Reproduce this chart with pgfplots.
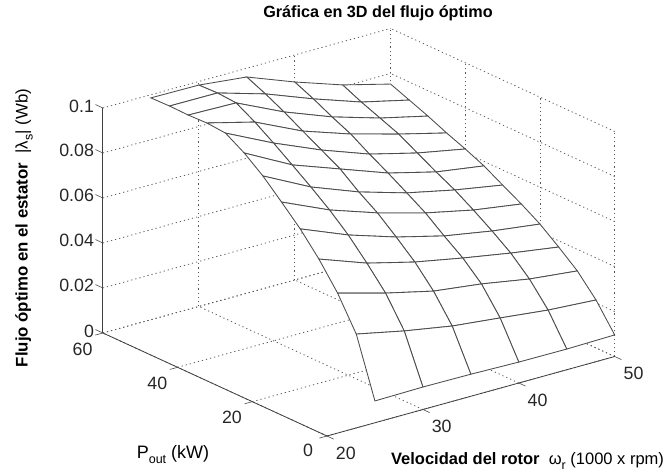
\documentclass[border=0pt]{standalone}
\usepackage{fontspec}
\setmainfont{Liberation Sans}
\usepackage{pgfplots}
\pgfplotsset{compat=1.18}
\definecolor{meshc}{gray}{0.3}
\definecolor{gridc}{gray}{0.35}
\newcommand{\sub}[1]{\raisebox{-5pt}{\fontsize{12.5}{12.5}\selectfont #1}}
\begin{document}
\begin{tikzpicture}
\begin{axis}[
  x={(9.59pt,2.65pt)},
  y={(-3.735pt,1.717pt)},
  z={(0pt,2250pt)},
  clip=false,
  xmin=20,xmax=50,ymin=0,ymax=60,zmin=0,zmax=0.1,
  xtick={20,30,40,50},ytick={0,20,40,60},ztick={0,0.02,0.04,0.06,0.08,0.1},
  scaled z ticks=false,
  /pgf/number format/assume math mode=true,
  z tick label style={/pgf/number format/fixed,yshift=-2pt},
  x tick label style={xshift=6pt,yshift=-3pt},
  y tick label style={xshift=-5.5pt,yshift=-2.5pt},
  grid=major,
  grid style={dash pattern=on 1.2pt off 3pt,gridc,line width=0.8pt},
  axis line style={draw=none},
  tick style={draw=none},
  tick align=outside,
  major tick length=6pt,
  tick label style={font=\fontsize{17.8}{20}\selectfont,text=black!85},
  title={\bfseries Gráfica en 3D del flujo óptimo},
  title style={at={(axis cs:25.32,0,0.1791)},anchor=center,yshift=0pt,font=\fontsize{16.2}{18}\selectfont},
  xlabel={\bfseries Velocidad del rotor\ \ \normalfont ω\sub{r} (1000 x rpm)},
  xlabel style={at={(axis cs:40.91,0,-0.03573)},anchor=center,rotate=0,sloped=false,font=\fontsize{16.5}{18}\selectfont},
  ylabel={P\sub{out} (kW)},
  ylabel style={at={(axis cs:20,41.23,-0.03991)},anchor=center,rotate=0,sloped=false,font=\fontsize{18}{20}\selectfont},
  zlabel={\bfseries Flujo óptimo en el estator\ \ \normalfont |λ\sub{s}| (Wb)},
  zlabel style={at={(axis cs:20,81.1,0.03053)},anchor=center,rotate=0,sloped=false,font=\fontsize{16.8}{18}\selectfont},
]
\addplot3[surf,shader=faceted,z buffer=sort,mesh/rows=13,mesh/cols=6,
  colormap={wh}{color=(white) color=(white)},faceted color=meshc,line width=0.85pt]
table[row sep=\\]{
x y z\\
25 60 .0986\\ 30 60 .0984\\ 35 60 .0961\\ 40 60 .0880\\ 45 60 .0808\\ 50 60 .0753\\
25 55 .0988\\ 30 55 .0987\\ 35 55 .0924\\ 40 55 .0843\\ 45 55 .0770\\ 50 55 .0720\\
25 50 .0986\\ 30 50 .0981\\ 35 50 .0882\\ 40 50 .0801\\ 45 50 .0737\\ 50 50 .0687\\
25 45 .0989\\ 30 45 .0934\\ 35 45 .0835\\ 40 45 .0763\\ 45 45 .0704\\ 50 45 .0650\\
25 40 .0982\\ 30 40 .0879\\ 35 40 .0789\\ 40 40 .0712\\ 45 40 .0658\\ 50 40 .0617\\
25 35 .0932\\ 30 35 .0820\\ 35 35 .0743\\ 40 35 .0666\\ 45 35 .0612\\ 50 35 .0580\\
25 30 .0868\\ 30 30 .0760\\ 35 30 .0679\\ 40 30 .0616\\ 45 30 .0570\\ 50 30 .0533\\
25 25 .0790\\ 30 25 .0696\\ 35 25 .0624\\ 40 25 .0565\\ 45 25 .0519\\ 50 25 .0487\\
25 20 .0709\\ 30 20 .0623\\ 35 20 .0555\\ 40 20 .0501\\ 45 20 .0464\\ 50 20 .0436\\
25 15 .0613\\ 30 15 .0536\\ 35 15 .0482\\ 40 15 .0441\\ 45 15 .0404\\ 50 15 .0372\\
25 10 .0500\\ 30 10 .0441\\ 35 10 .0391\\ 40 10 .0364\\ 45 10 .0327\\ 50 10 .0304\\
25 5 .0356\\ 30 5 .0311\\ 35 5 .0274\\ 40 5 .0251\\ 45 5 .0227\\ 50 5 .0213\\
25 0 .0097\\ 30 0 .0100\\ 35 0 .0098\\ 40 0 .0093\\ 45 0 .0092\\ 50 0 .0096\\
};
\addplot3[black!75,line width=0.8pt] coordinates {(20,0,0) (50,0,0)};
\addplot3[black!75,line width=0.8pt] coordinates {(20,0,0) (20,60,0)};
\addplot3[black!75,line width=0.8pt] coordinates {(20,60,0) (20,60,0.1)};
% short tick strokes
\addplot3[black!70,line width=0.6pt] coordinates {(20,0,0) (20,-1.8,0)};
\addplot3[black!70,line width=0.6pt] coordinates {(30,0,0) (30,-1.8,0)};
\addplot3[black!70,line width=0.6pt] coordinates {(40,0,0) (40,-1.8,0)};
\addplot3[black!70,line width=0.6pt] coordinates {(50,0,0) (50,-1.8,0)};
\addplot3[black!70,line width=0.6pt] coordinates {(20,0,0) (19.2,0,0)};
\addplot3[black!70,line width=0.6pt] coordinates {(20,20,0) (19.2,20,0)};
\addplot3[black!70,line width=0.6pt] coordinates {(20,40,0) (19.2,40,0)};
\addplot3[black!70,line width=0.6pt] coordinates {(20,60,0) (19.2,60,0)};
\addplot3[black!70,line width=0.6pt] coordinates {(20,60,0) (20,62,0)};
\addplot3[black!70,line width=0.6pt] coordinates {(20,60,0.02) (20,62,0.02)};
\addplot3[black!70,line width=0.6pt] coordinates {(20,60,0.04) (20,62,0.04)};
\addplot3[black!70,line width=0.6pt] coordinates {(20,60,0.06) (20,62,0.06)};
\addplot3[black!70,line width=0.6pt] coordinates {(20,60,0.08) (20,62,0.08)};
\addplot3[black!70,line width=0.6pt] coordinates {(20,60,0.1) (20,62,0.1)};
\coordinate (B) at (axis cs:20,0,0);
\end{axis}
\pgfresetboundingbox
\path ([shift={(-327pt,436pt)}]B) rectangle ([shift={(342pt,-39pt)}]B);
\end{tikzpicture}
\end{document}
